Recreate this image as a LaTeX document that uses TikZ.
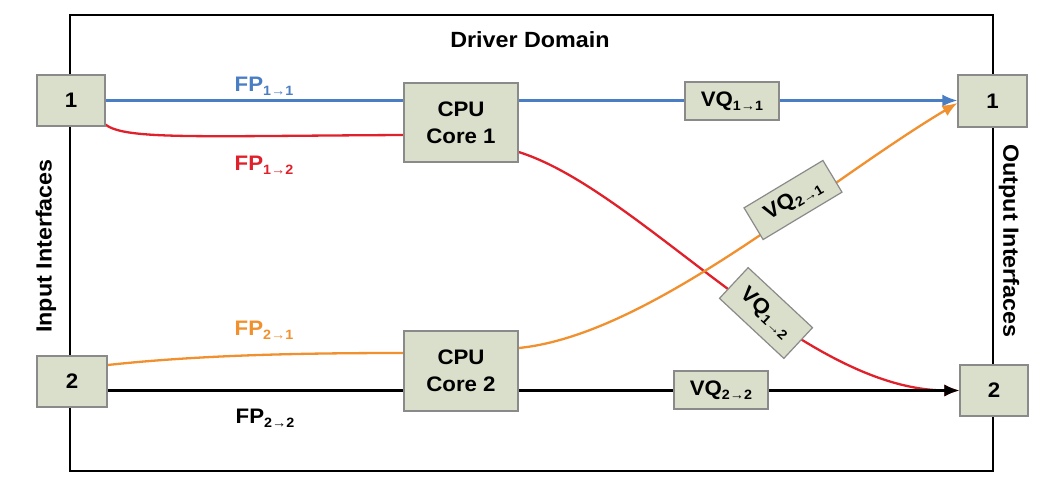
\documentclass[tikz,border=0pt]{standalone}
\usepackage{fontspec}
\setmainfont{Liberation Sans}[FakeStretch=1.06]
\usetikzlibrary{arrows.meta,backgrounds,calc}
\definecolor{boxfill}{HTML}{DADFCB}
\definecolor{boxdraw}{HTML}{8A8A8A}
\definecolor{fpblue}{HTML}{4A7EC4}
\definecolor{fpred}{HTML}{E0202A}
\definecolor{fporange}{HTML}{F0902E}
\newcommand\subarr[1]{\raisebox{-0.4ex}{\fontsize{13.5}{13.5}\selectfont #1}}
\tikzset{
  ifbox/.style={draw=boxdraw,fill=boxfill,line width=1.2pt,inner sep=0pt,
    font=\bfseries\fontsize{21}{27}\selectfont,align=center},
  flow/.style={line width=2.3pt},
  tip/.style={-{Latex[length=15pt,width=12pt]}},
  fplabel/.style={font=\bfseries\fontsize{21}{24}\selectfont,inner sep=0pt},
  side/.style={font=\bfseries\fontsize{22}{24}\selectfont,inner sep=0pt}
}
\begin{document}
\begin{tikzpicture}[x=1pt,y=-1pt]
\useasboundingbox (0,0) rectangle (1041,477);
% frame
\draw[line width=2pt] (70,15) rectangle (993,471);
\node[side] (dd) at (530,40) {Driver Domain};
\node[side,rotate=90] (ii) at (46,246) {Input Interfaces};
\node[side,rotate=-90] (oi) at (1009,241) {Output Interfaces};
% boxes
\node[ifbox,minimum width=68pt,minimum height=51pt] (in1) at (71,100.5) {1};
\node[ifbox,minimum width=70pt,minimum height=51pt] (in2) at (72,381.5) {2};
\node[ifbox,minimum width=69pt,minimum height=52pt] (out1) at (992.5,101) {1};
\node[ifbox,minimum width=68pt,minimum height=51pt] (out2) at (994,390.5) {2};
\node[ifbox,minimum width=114pt,minimum height=79pt] (cpu1) at (461,122.5) {CPU\\Core 1};
\node[ifbox,minimum width=114pt,minimum height=80pt] (cpu2) at (461,371) {CPU\\Core 2};
\node[ifbox,minimum width=94pt,minimum height=38pt] (vq11) at (732,101) {VQ\subarr{1→1}};
\node[ifbox,minimum width=94pt,minimum height=38pt] (vq22) at (721,390) {VQ\subarr{2→2}};
\node[ifbox,minimum width=92pt,minimum height=37pt,rotate=31] (vq21) at (793,200) {VQ\subarr{2→1}};
\node[ifbox,minimum width=88pt,minimum height=42pt,rotate=-43] (vq12) at (766,313) {VQ\subarr{1→2}};
% labels
\node[fplabel,text=fpblue] (l11) at (264,86) {FP\subarr{1→1}};
\node[fplabel,text=fpred] (l12) at (264,165) {FP\subarr{1→2}};
\node[fplabel,text=fporange] (l21) at (264,330) {FP\subarr{2→1}};
\node[fplabel,text=black] (l22) at (265,418) {FP\subarr{2→2}};
% flows
\begin{scope}[on background layer]
\draw[flow,fpblue,tip] (in1.east) -- (in1.east -| out1.west);
\draw[flow,fpred] ($(in1.south east)+(0,-2)$) .. controls (125,140) and (200,136) .. ($(cpu1.west)+(0,12.5)$);
\draw[flow,fpred,tip] ($(cpu1.east)+(0,29.5)$) .. controls (640,190) and (800,390) .. (out2.west);
\draw[flow,fporange] ($(in2.east)+(0,-16.5)$) .. controls (200,355) and (300,353) .. ($(cpu2.west)+(0,-18)$);
\draw[flow,fporange,tip] ($(cpu2.east)+(0,-23)$) .. controls (650,335) and (820,185) .. ($(out1.west)+(0,2)$);
\draw[flow,black,tip] (out2.west -| in2.east) -- (out2.west);
\end{scope}
\end{tikzpicture}
\end{document}
